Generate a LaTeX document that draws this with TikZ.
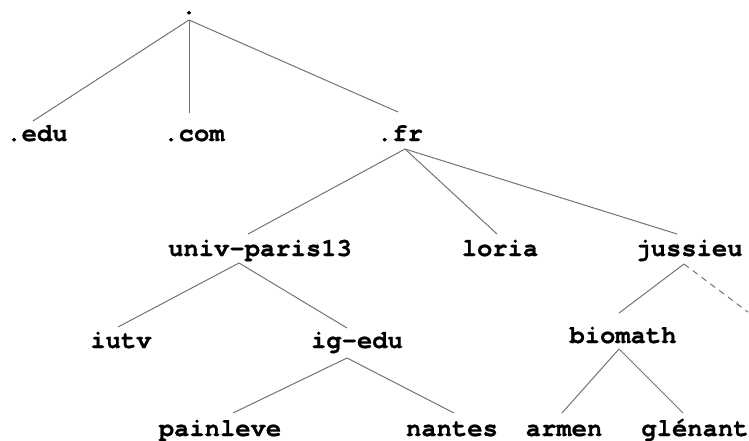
\documentclass[tikz,border=0pt]{standalone}
\usepackage{fontspec}
\setmainfont{texgyrecursor}[Extension=.otf, UprightFont=*-regular, BoldFont=*-bold, BoldFeatures={FakeBold=0.8}]
\begin{document}
\begin{tikzpicture}[x=1pt,y=-1pt,
  dname/.style={font=\fontsize{25.5}{26}\selectfont\bfseries, anchor=base, inner sep=0pt},
  edge/.style={draw=black!55, line width=1pt},
  openedge/.style={edge, dash pattern=on 6pt off 5pt}]
\useasboundingbox (0,0) rectangle (749,440);

% domain names
\node[dname, text height=4pt] (root) at (189,14) {.};
\node[dname] (edu) at (37,141) {.edu};
\node[dname] (com) at (194,141) {.com};
\node[dname] (fr) at (400,141) {.fr};
\node[dname] (up13) at (260,256) {univ-paris13};
\node[dname] (loria) at (500,256) {loria};
\node[dname] (jussieu) at (689,256) {jussieu};
\node[dname] (iutv) at (121,348) {iutv};
\node[dname] (igedu) at (357,348) {ig-edu};
\node[dname] (biomath) at (623,343) {biomath};
\node[dname] (painleve) at (220,436) {painleve};
\node[dname] (nantes) at (452,436) {nantes};
\node[dname] (armen) at (564,436) {armen};
\node[dname] (glenant) at (695,436) {glénant};

% edge end points below and above each name
\coordinate (root-s) at (189,20);
\coordinate (edu-n) at (33,121);
\coordinate (com-n) at (189,113);
\coordinate (fr-n) at (398,112);
\coordinate (fr-s) at (405,149);
\coordinate (up13-n) at (248,234);
\coordinate (loria-n) at (497,234);
\coordinate (jussieu-n) at (677,234);
\coordinate (up13-s) at (239,263);
\coordinate (jussieu-s) at (684,264);
\coordinate (iutv-n) at (118,327);
\coordinate (igedu-n) at (347,328);
\coordinate (biomath-n) at (619,313);
\coordinate (more) at (748,312);
\coordinate (igedu-s) at (347,358);
\coordinate (biomath-s) at (619,349);
\coordinate (painleve-n) at (233,413);
\coordinate (nantes-n) at (454,413);
\coordinate (armen-n) at (562,413);
\coordinate (glenant-n) at (683,413);

% tree edges
\draw[edge] (root-s) -- (edu-n);
\draw[edge] (root-s) -- (com-n);
\draw[edge] (root-s) -- (fr-n);
\draw[edge] (fr-s) -- (up13-n);
\draw[edge] (fr-s) -- (loria-n);
\draw[edge] (fr-s) -- (jussieu-n);
\draw[edge] (up13-s) -- (iutv-n);
\draw[edge] (up13-s) -- (igedu-n);
\draw[edge] (jussieu-s) -- (biomath-n);
\draw[openedge] (jussieu-s) -- (more);
\draw[edge] (igedu-s) -- (painleve-n);
\draw[edge] (igedu-s) -- (nantes-n);
\draw[edge] (biomath-s) -- (armen-n);
\draw[edge] (biomath-s) -- (glenant-n);
\end{tikzpicture}
\end{document}
